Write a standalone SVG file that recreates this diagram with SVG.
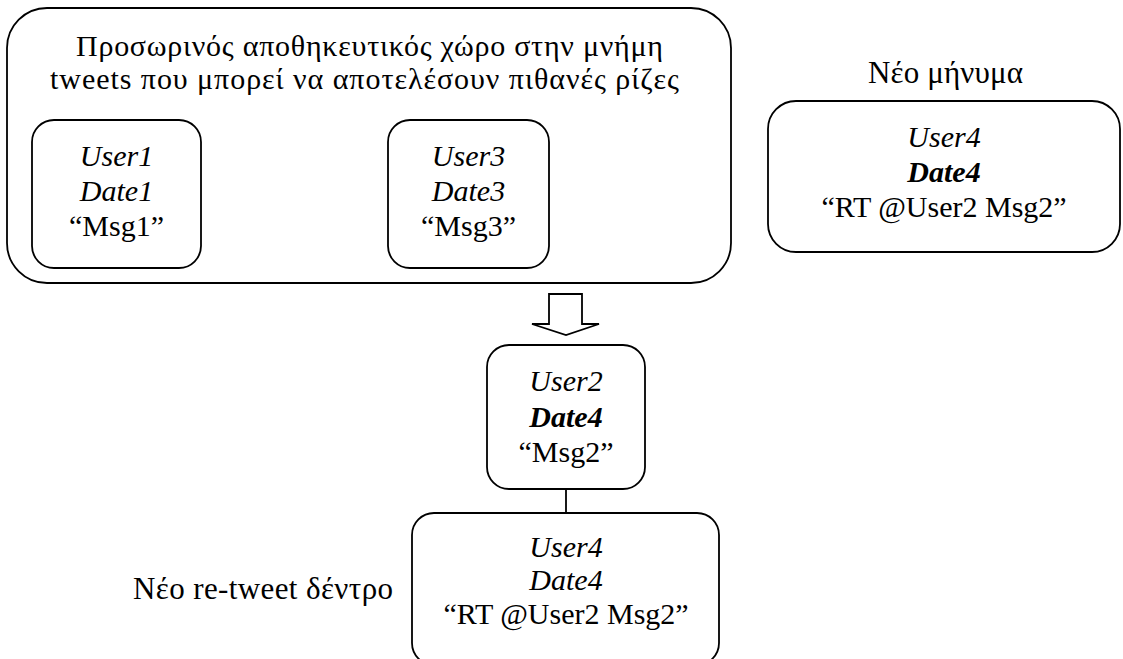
<svg xmlns="http://www.w3.org/2000/svg" width="1123" height="659" viewBox="0 0 1123 659">
  <style>
    .box { fill: #ffffff; stroke: #000000; stroke-width: 1.8; }
    .txt { font-size: 30px; fill: #000000; text-anchor: middle; }
    .gr { font-size: 31px; }
    .it { font-style: italic; }
    .bi { font-style: italic; font-weight: bold; }
    .link { stroke: #000000; stroke-width: 1.8; fill: none; }
  </style>
  <rect width="1123" height="659" fill="#ffffff"/>

  <g font-family="'Liberation Serif', 'DejaVu Serif', serif">
  <!-- buffer of candidate root tweets -->
  <g id="buffer">
    <rect class="box" x="7" y="8" width="724" height="275" rx="40" ry="40"/>
    <text class="txt" x="369.5" y="56" textLength="587">Προσωρινός αποθηκευτικός χώρο στην μνήμη</text>
    <text class="txt" x="364.5" y="89" textLength="629">tweets που μπορεί να αποτελέσουν πιθανές ρίζες</text>
  </g>

  <g id="tweet1">
    <rect class="box" x="32" y="120" width="169" height="148" rx="22" ry="22"/>
    <text class="txt it" x="116.5" y="166">User1</text>
    <text class="txt it" x="116.5" y="201">Date1</text>
    <text class="txt" x="116.5" y="236">“Msg1”</text>
  </g>

  <g id="tweet3">
    <rect class="box" x="388" y="120" width="161" height="148" rx="22" ry="22"/>
    <text class="txt it" x="468.5" y="166">User3</text>
    <text class="txt it" x="468.5" y="201">Date3</text>
    <text class="txt" x="468.5" y="236">“Msg3”</text>
  </g>

  <!-- incoming message -->
  <g id="new-message">
    <text class="txt gr" x="945.5" y="83" textLength="155">Νέο μήνυμα</text>
    <rect class="box" x="768" y="101" width="352" height="151" rx="28" ry="28"/>
    <text class="txt it" x="944" y="147">User4</text>
    <text class="txt bi" x="944" y="182">Date4</text>
    <text class="txt" x="944" y="217">“RT @User2 Msg2”</text>
  </g>

  <!-- root of the new re-tweet tree -->
  <g id="root-tweet">
    <rect class="box" x="487" y="345" width="158" height="144" rx="22" ry="22"/>
    <text class="txt it" x="566" y="391">User2</text>
    <text class="txt bi" x="566" y="427">Date4</text>
    <text class="txt" x="566" y="462">“Msg2”</text>
  </g>

  <g id="retweet">
    <rect class="box" x="412" y="513" width="307" height="152" rx="22" ry="22"/>
    <text class="txt it" x="566" y="557">User4</text>
    <text class="txt it" x="566" y="590">Date4</text>
    <text class="txt" x="566" y="624">“RT @User2 Msg2”</text>
  </g>

  <g id="tree-label">
    <text class="txt gr" x="263" y="599" textLength="260">Νέο re-tweet δέντρο</text>
  </g>
  </g>

  <g id="connectors">
    <polygon class="box" points="549,294 582,294 582,324 599,324 566,335 532,324 549,324"/>
    <line class="link" x1="566" y1="489" x2="566" y2="513"/>
  </g>
</svg>
